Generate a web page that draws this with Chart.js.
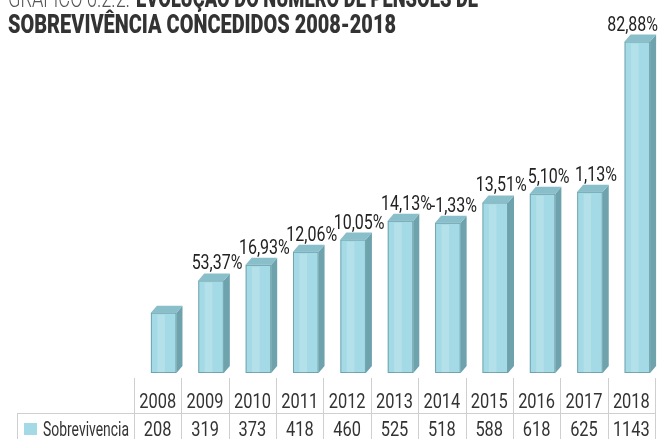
<!DOCTYPE html>
<html>
<head>
<meta charset="utf-8">
<script src="https://cdn.jsdelivr.net/npm/chart.js"></script>
<style>
  body { margin: 0; background: #fff; }
  canvas { display: block; }
</style>
</head>
<body>
<canvas id="chart" width="659" height="439"></canvas>
<script>
// Data
const years = ['2008', '2009', '2010', '2011', '2012', '2013', '2014', '2015', '2016', '2017', '2018'];
const sobrevivencia = [208, 319, 373, 418, 460, 525, 518, 588, 618, 625, 1143];
const variacao = ['', '53,37%', '16,93%', '12,06%', '10,05%', '14,13%', '-1,33%', '13,51%', '5,10%', '1,13%', '82,88%'];
const seriesName = 'Sobrevivencia';
const titleLight = 'GRÁFICO 6.2.2: ';
const titleBold1 = 'EVOLUÇÃO DO NÚMERO DE PENSÕES DE';
const titleBold2 = 'SOBREVIVÊNCIA CONCEDIDOS 2008-2018';

const FONT = 'Roboto, "Liberation Sans", sans-serif';
const frontColor = '#a3dae5';
const sideColor = '#6ea2ac';
const topColor = '#88bfca';
const depthX = 6, depthY = -7, shift = 6;

// squeeze text horizontally to look like a condensed face
function narrowText(ctx, text, x, y, squeeze) {
  const w = ctx.measureText(text).width;
  ctx.fillText(text, x, y, w * squeeze);
  return w * squeeze;
}

// Fake 3D: side and top faces of each bar
const bar3d = {
  id: 'bar3d',
  beforeDatasetsDraw(chart) {
    chart.ctx.save();
    chart.ctx.translate(shift, 0);
  },
  afterDatasetsDraw(chart) {
    const ctx = chart.ctx;
    chart.getDatasetMeta(0).data.forEach(el => {
      const { x, y, base, width } = el.getProps(['x', 'y', 'base', 'width'], true);
      const l = x - width / 2, r = x + width / 2;
      ctx.fillStyle = sideColor;
      ctx.beginPath();
      ctx.moveTo(r, y);
      ctx.lineTo(r + depthX, y + depthY);
      ctx.lineTo(r + depthX, base + depthY);
      ctx.lineTo(r, base);
      ctx.closePath();
      ctx.fill();
      ctx.fillStyle = topColor;
      ctx.beginPath();
      ctx.moveTo(l, y);
      ctx.lineTo(l + depthX, y + depthY);
      ctx.lineTo(r + depthX, y + depthY);
      ctx.lineTo(r, y);
      ctx.closePath();
      ctx.fill();
      // soft highlight and edges on the front
      ctx.fillStyle = 'rgba(255,255,255,0.18)';
      ctx.fillRect(l + width * 0.25, y + 2, width * 0.3, base - y - 2);
      ctx.strokeStyle = 'rgba(70,120,130,0.55)';
      ctx.lineWidth = 1;
      ctx.strokeRect(l + 0.5, y + 0.5, width - 1, base - y - 1);
    });
    ctx.restore();

    // percent labels above bars
    ctx.save();
    ctx.fillStyle = '#222';
    ctx.font = '20px ' + FONT;
    ctx.textAlign = 'center';
    ctx.textBaseline = 'alphabetic';
    chart.getDatasetMeta(0).data.forEach((el, i) => {
      if (!variacao[i]) return;
      const w = ctx.measureText(variacao[i]).width * 0.8;
      const cx = Math.min(el.x + shift + 6, chart.width - 1 - w / 2);
      narrowText(ctx, variacao[i], cx, el.y - 11, 0.8);
    });
    ctx.restore();
  }
};

// Title and data table
const extras = {
  id: 'extras',
  afterDraw(chart) {
    const ctx = chart.ctx;
    const xs = chart.scales.x;
    const area = chart.chartArea;
    const colW = area.width / years.length;

    ctx.save();
    // title (first line is cut by the top edge)
    ctx.textAlign = 'left';
    ctx.textBaseline = 'alphabetic';
    ctx.fillStyle = '#555';
    ctx.font = '300 25px ' + FONT;
    ctx.fillText(titleLight, 8, 7, 126);
    ctx.fillStyle = '#333';
    ctx.font = '900 25px ' + FONT;
    ctx.fillText(titleBold1, 136, 7, 342);
    ctx.fillText(titleBold2, 8, 33, 388);

    // grid
    ctx.strokeStyle = '#cfcfcf';
    ctx.lineWidth = 1;
    ctx.beginPath();
    for (let i = 0; i <= years.length; i++) {
      const gx = Math.round(area.left + i * colW) + 0.5;
      ctx.moveTo(gx, 378);
      ctx.lineTo(gx, 439);
    }
    ctx.moveTo(17, 413.5);
    ctx.lineTo(area.right + 0.5, 413.5);
    ctx.moveTo(17.5, 413);
    ctx.lineTo(17.5, 439);
    ctx.stroke();

    // texts
    ctx.fillStyle = '#333';
    ctx.font = '20px ' + FONT;
    ctx.textAlign = 'center';
    years.forEach((yr, i) => {
      const cx = xs.getPixelForValue(i);
      narrowText(ctx, yr, cx, 408, 0.82);
      narrowText(ctx, String(sobrevivencia[i]), cx, 436, 0.82);
    });

    ctx.fillStyle = frontColor;
    ctx.fillRect(24, 423, 13, 12);
    ctx.fillStyle = '#333';
    ctx.textAlign = 'left';
    ctx.fillText(seriesName, 43, 436, 86);
    ctx.restore();
  }
};

new Chart(document.getElementById('chart').getContext('2d'), {
  type: 'bar',
  data: {
    labels: years,
    datasets: [{
      label: seriesName,
      data: sobrevivencia,
      backgroundColor: frontColor,
      borderWidth: 0,
      barPercentage: 0.54,
      categoryPercentage: 1
    }]
  },
  options: {
    responsive: false,
    animation: false,
    layout: { padding: { left: 134, right: 4, top: 25, bottom: 66 } },
    scales: {
      x: { display: false },
      y: { display: false, min: 0, max: 1200 }
    },
    plugins: {
      legend: { display: false },
      tooltip: { enabled: false }
    }
  },
  plugins: [bar3d, extras]
});
</script>
</body>
</html>
